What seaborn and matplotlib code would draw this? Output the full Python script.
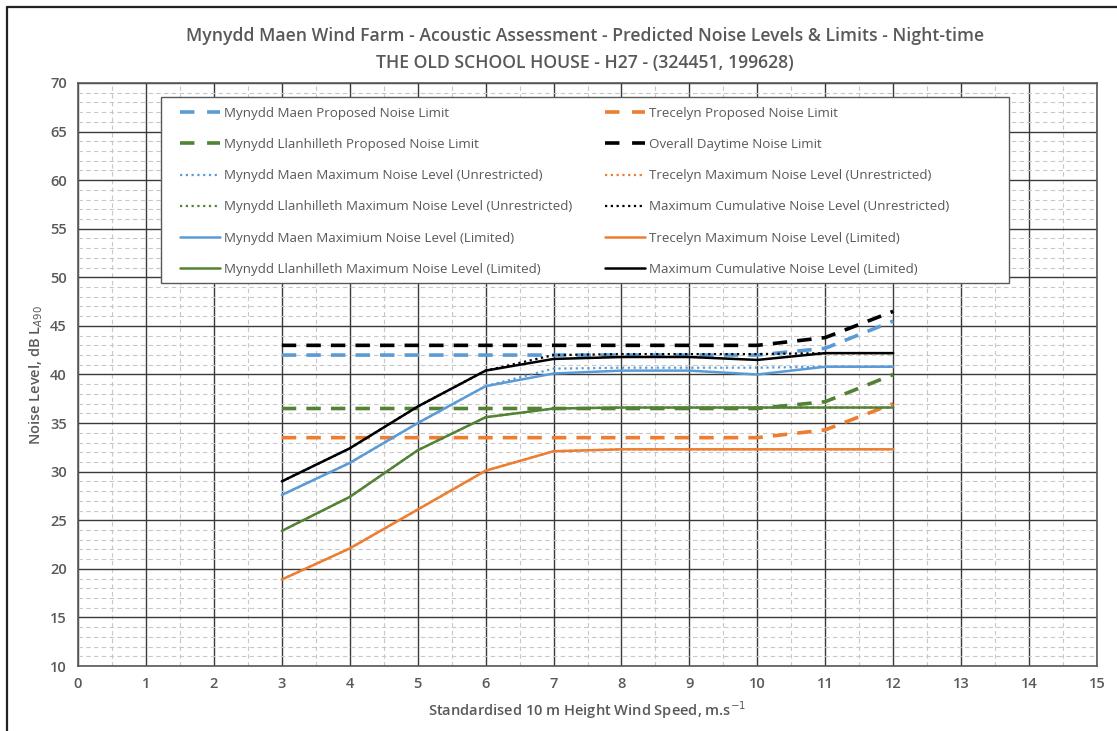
import seaborn as sns
import pandas as pd
import numpy as np
import matplotlib.pyplot as plt
from matplotlib.lines import Line2D
from matplotlib.patches import Rectangle
from matplotlib.ticker import MultipleLocator

sns.set_theme(style='white')
plt.rcParams['font.family'] = ['Open Sans', 'DejaVu Sans']

# wind speed (m/s) and noise levels, dB LA90
wind = [3, 4, 5, 6, 7, 8, 9, 10, 11, 12]

mm_limit = [42.0, 42.0, 42.0, 42.0, 42.0, 42.0, 42.0, 42.0, 42.7, 45.5]
tre_limit = [33.5, 33.5, 33.5, 33.5, 33.5, 33.5, 33.5, 33.5, 34.3, 37.0]
llan_limit = [36.5, 36.5, 36.5, 36.5, 36.5, 36.5, 36.5, 36.5, 37.2, 40.0]
overall_limit = [43.0, 43.0, 43.0, 43.0, 43.0, 43.0, 43.0, 43.0, 43.8, 46.5]

mm_unres = [27.6, 30.9, 35.0, 38.8, 40.6, 40.7, 40.7, 40.7, 40.8, 40.8]
tre_unres = [18.9, 22.1, 26.1, 30.1, 32.1, 32.3, 32.3, 32.3, 32.3, 32.3]
llan_unres = [23.9, 27.4, 32.2, 35.6, 36.5, 36.6, 36.6, 36.6, 36.6, 36.6]
cum_unres = [29.0, 32.4, 36.7, 40.4, 42.0, 42.1, 42.1, 42.1, 42.2, 42.2]

mm_lim = [27.6, 30.9, 35.0, 38.8, 40.1, 40.4, 40.4, 40.0, 40.8, 40.8]
tre_lim = [18.9, 22.1, 26.1, 30.1, 32.1, 32.3, 32.3, 32.3, 32.3, 32.3]
llan_lim = [23.9, 27.4, 32.2, 35.6, 36.5, 36.6, 36.6, 36.6, 36.6, 36.6]
cum_lim = [29.0, 32.4, 36.7, 40.4, 41.6, 41.8, 41.8, 41.5, 42.2, 42.2]

blue, orange, green, black = '#5B9BD5', '#ED7D31', '#548235', '#000000'
txt = '#595959'

# (label, values, colour, kind)
series = [
    ('Mynydd Maen Proposed Noise Limit', mm_limit, blue, 'dash'),
    ('Trecelyn Proposed Noise Limit', tre_limit, orange, 'dash'),
    ('Mynydd Llanhilleth Proposed Noise Limit', llan_limit, green, 'dash'),
    ('Overall Daytime Noise Limit', overall_limit, black, 'dash'),
    ('Mynydd Maen Maximum Noise Level (Unrestricted)', mm_unres, blue, 'dot'),
    ('Trecelyn Maximum Noise Level (Unrestricted)', tre_unres, orange, 'dot'),
    ('Mynydd Llanhilleth Maximum Noise Level (Unrestricted)', llan_unres, green, 'dot'),
    ('Maximum Cumulative Noise Level (Unrestricted)', cum_unres, black, 'dot'),
    ('Mynydd Maen Maximium Noise Level (Limited)', mm_lim, blue, 'solid'),
    ('Trecelyn Maximum Noise Level (Limited)', tre_lim, orange, 'solid'),
    ('Mynydd Llanhilleth Maximum Noise Level (Limited)', llan_lim, green, 'solid'),
    ('Maximum Cumulative Noise Level (Limited)', cum_lim, black, 'solid'),
]
styles = {'dash': (2.6, (4, 2.8)), 'dot': (1.6, (1, 1.6)), 'solid': (1.8, None)}

fig = plt.figure(figsize=(11.17, 7.31), dpi=100)
ax = fig.add_axes([78 / 1117, 1 - 666 / 731, 1019 / 1117, 583 / 731])

handles = {}
for label, vals, col, kind in series:
    df = pd.DataFrame({'wind': wind, 'level': vals})
    lw, dash = styles[kind]
    sns.lineplot(data=df, x='wind', y='level', ax=ax, color=col, lw=lw,
                 zorder=4 if kind == 'solid' else 3)
    h = Line2D([], [], color=col, lw=lw)
    if dash is not None:
        ax.lines[-1].set_dashes(dash)
        h.set_dashes(dash if kind == 'dot' else (4, 3.5))
    handles[label] = h

ax.set_xlim(0, 15)
ax.set_ylim(10, 70)
ax.xaxis.set_major_locator(MultipleLocator(1))
ax.xaxis.set_minor_locator(MultipleLocator(0.5))
ax.yaxis.set_major_locator(MultipleLocator(5))
ax.yaxis.set_minor_locator(MultipleLocator(1))
ax.grid(which='major', color='#3a3a3a', lw=1.0, ls='-', zorder=0)
ax.grid(which='minor', color='#c8c8c8', lw=0.8, ls=(0, (4, 3)), zorder=0)
ax.set_axisbelow(True)
for sp in ax.spines.values():
    sp.set_color('#595959')
    sp.set_linewidth(1.2)
ax.tick_params(which='both', length=0, labelsize=10.5, labelcolor=txt, pad=8)
for lab in ax.get_xticklabels() + ax.get_yticklabels():
    lab.set_fontweight('semibold')

ax.set_xlabel('Standardised 10 m Height Wind Speed, m.s$^{-1}$', fontsize=10.5,
              color=txt, fontweight='semibold', labelpad=6)
ax.set_ylabel('Noise Level, dB L$_{A90}$', fontsize=10.5, color=txt,
              fontweight='semibold', labelpad=4)

fig.text(585 / 1117, 1 - 36 / 731, 'Mynydd Maen Wind Farm - Acoustic Assessment - '
         'Predicted Noise Levels & Limits - Night-time', ha='center', va='center',
         fontsize=12.7, color=txt, fontweight='semibold')
fig.text(585 / 1117, 1 - 63 / 731, 'THE OLD SCHOOL HOUSE - H27 - (324451, 199628)',
         ha='center', va='center', fontsize=12.7, color=txt, fontweight='semibold')

# legend box, white, covering the grid
ax.add_patch(Rectangle((83 / 1019, 383 / 583), 848 / 1019, 186 / 583,
                       transform=ax.transAxes, facecolor='white', edgecolor='#595959',
                       lw=1.0, zorder=4.6))

# legend in two columns, row-wise order as in the original
order = [s[0] for s in series]
leg_kw = dict(loc='upper left', fontsize=9.6, labelcolor=txt, frameon=False,
              handlelength=3.0, handletextpad=0.3, labelspacing=1.36,
              borderpad=0, borderaxespad=0)
leg1 = ax.legend([handles[l] for l in order[0::2]], order[0::2],
                 bbox_to_anchor=((180 - 78) / 1019, (666 - 107) / 583), **leg_kw)
leg1.set_zorder(5)
ax.add_artist(leg1)
leg2 = ax.legend([handles[l] for l in order[1::2]], order[1::2],
                 bbox_to_anchor=((605 - 78) / 1019, (666 - 107) / 583), **leg_kw)
leg2.set_zorder(5)

# outer chart border (only top and left visible)
fig.add_artist(Line2D([7 / 1117, 7 / 1117], [0, 1 - 7 / 731], color='#222222', lw=1.6,
                      transform=fig.transFigure))
fig.add_artist(Line2D([7 / 1117, 1], [1 - 7 / 731, 1 - 7 / 731], color='#222222', lw=1.6,
                      transform=fig.transFigure))

fig.savefig('out.png', dpi=100)
